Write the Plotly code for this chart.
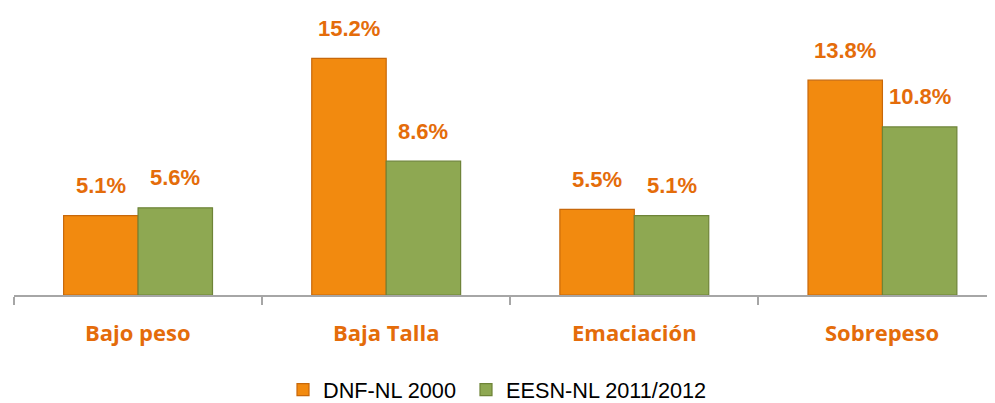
import plotly.graph_objects as go

categories = ["Bajo peso", "Baja Talla", "Emaciación", "Sobrepeso"]
series_names = ["DNF-NL 2000", "EESN-NL 2011/2012"]
dnf_2000 = [5.1, 15.2, 5.5, 13.8]
eesn_2012 = [5.6, 8.6, 5.1, 10.8]

bar_colors = ["#F28A0F", "#8EA852"]
line_colors = ["#C8680A", "#6E8438"]
label_color = "#E46C0A"

# page body has an 8px margin; size the figure so it fits the 995x403 window
W, H = 987, 395
off = 8
plot_left = 13.5 - off
plot_top = 14.5 - off
plot_bottom = 295.5 - off
plot_h = plot_bottom - plot_top
cat_px = 248.25

xs = list(range(len(categories)))
fig = go.Figure()
legend_ids = ["legend", "legend2"]
for name, vals, c, lc, lg in zip(series_names, [dnf_2000, eesn_2012], bar_colors, line_colors, legend_ids):
    fig.add_trace(go.Bar(
        x=xs, y=vals, name=name, legend=lg,
        marker=dict(color=c, line=dict(color=lc, width=1.2)),
    ))

# value labels
bw = 0.3
for k, vals in enumerate([dnf_2000, eesn_2012]):
    o = (k - 0.5) * bw
    for i, v in enumerate(vals):
        fig.add_annotation(
            x=i + o, y=v, text=f"<b>{v:.1f}%</b>", showarrow=False,
            yshift=30, yanchor="middle", xanchor="center",
            font=dict(family="Liberation Sans, Arial, sans-serif", size=22, color=label_color),
        )

# category labels
for i, cat in enumerate(categories):
    fig.add_annotation(
        x=i, y=0, yref="paper", text=f"<b>{cat}</b>", showarrow=False,
        yshift=-37, yanchor="middle", xanchor="center",
        font=dict(family="Open Sans, sans-serif", size=22, color=label_color),
    )

legend_font = dict(family="Liberation Sans, Arial, sans-serif", size=21.7, color="#000000")
legend_y = (H - (390 - off)) / H
common = dict(orientation="h", xref="container", yref="container", xanchor="left",
              y=legend_y, yanchor="middle", font=legend_font, itemwidth=30,
              bgcolor="rgba(0,0,0,0)")

fig.update_layout(
    width=W, height=H,
    margin=dict(l=plot_left, r=0, t=plot_top, b=H - plot_bottom, pad=0),
    paper_bgcolor="white", plot_bgcolor="white",
    barmode="group", bargap=0.4, bargroupgap=0,
    showlegend=True,
    legend=dict(x=(283 - off) / W, **common),
    legend2=dict(x=(466 - off) / W, **common),
    xaxis=dict(
        range=[-0.5, -0.5 + (W - plot_left) / cat_px],
        tickmode="array", tickvals=[-0.5, 0.5, 1.5, 2.5], ticktext=["", "", "", ""],
        ticks="outside", ticklen=8, tickwidth=2, tickcolor="#A6A6A6",
        showline=True, linecolor="#A6A6A6", linewidth=2,
        showgrid=False, zeroline=False,
    ),
    yaxis=dict(range=[0, plot_h / 15.62], visible=False, showgrid=False, zeroline=False),
)

fig.write_html("out.html")
